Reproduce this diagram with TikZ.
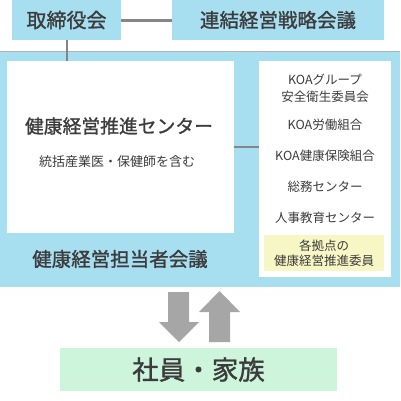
\documentclass[tikz,border=0pt]{standalone}
\usepackage{fontspec}
\setmainfont{Noto Sans CJK JP}
\newfontfamily\medfont{Noto Sans CJK JP}[FakeBold=1.2]
\definecolor{skyb}{HTML}{A7DFF0}
\definecolor{mint}{HTML}{CDF5DC}
\definecolor{cream}{HTML}{F7F6C5}
\definecolor{txt}{HTML}{3C3C3C}
\definecolor{conn}{HTML}{858585}
\definecolor{arr}{HTML}{A6A6A6}
\begin{document}
\begin{tikzpicture}[x=1pt,y=-1pt,
  box/.style={inner sep=0pt,outer sep=0pt,anchor=north west},
  lbl/.style={text=txt,inner sep=0pt},
  big/.style={lbl,font=\medfont\fontsize{#1}{24}\selectfont},
  small/.style={lbl,font=\fontsize{12.5}{15}\selectfont,align=center},
  link/.style={draw=conn,line width=2.5pt},
  bigarrow/.style={fill=arr}]
\useasboundingbox (0,0) rectangle (400,401);
% top boxes
\fill[skyb] (12,0) rectangle (121,40);
\node[box,minimum width=109pt,minimum height=40pt] (board) at (12,0) {};
\fill[skyb] (172,0) rectangle (384,40);
\node[box,minimum width=212pt,minimum height=40pt] (strat) at (172,0) {};
\node[big=20] at (board.center) {取締役会};
\node[big=19.5] at (strat.center) {連結経営戦略会議};
% blue region
\fill[skyb] (0,52) rectangle (400,287);
\draw[draw=black!30,line width=1pt] (0,52) -- (400,52);
% white boxes
\fill[white] (7,61) rectangle (234,233);
\node[box,minimum width=227pt,minimum height=172pt] (center) at (7,61) {};
\fill[white] (259,61) rectangle (391,277);
\node[box,minimum width=132pt,minimum height=216pt] (members) at (259,61) {};
\fill[cream] (264,235) rectangle (384,271);
\node[box,minimum width=120pt,minimum height=36pt] (local) at (264,235) {};
% connectors
\draw[link] (board.east |- 0,20.5) -- (strat.west |- 0,20.5);
\draw[link] (board.south -| 67,0) -- (center.north -| 67,0);
\draw[link] (center.east |- 0,147) -- (members.west |- 0,147);
% texts
\node[big=18.8] at (119,126) {健康経営推進センター};
\node[lbl,font=\fontsize{13}{16}\selectfont,anchor=west] at (39,162) {統括産業医・保健師を含む};
\node[big=19.5] at (120,259) {健康経営担当者会議};
\node[small] at (325,88.5) {KOAグループ\\[2pt]安全衛生委員会};
\node[small] at (325,125) {KOA労働組合};
\node[small] at (325,156) {KOA健康保険組合};
\node[small] at (325,187) {総務センター};
\node[small] at (325,218) {人事教育センター};
\node[small] at (local.center) {各拠点の\\[0pt]健康経営推進委員};
% arrows
\fill[bigarrow] (168,292) -- (189,292) -- (189,322) -- (199,322) -- (179,342) -- (159,322) -- (168,322) -- cycle;
\fill[bigarrow] (209,342) -- (230,342) -- (230,312) -- (240,312) -- (219.5,291) -- (199,312) -- (209,312) -- cycle;
% family box
\fill[mint] (60,348) rectangle (337,391);
\node[box,minimum width=277pt,minimum height=43pt] (family) at (60,348) {};
\node[big=26.5] at (family.center) {社員・家族};
\end{tikzpicture}
\end{document}
